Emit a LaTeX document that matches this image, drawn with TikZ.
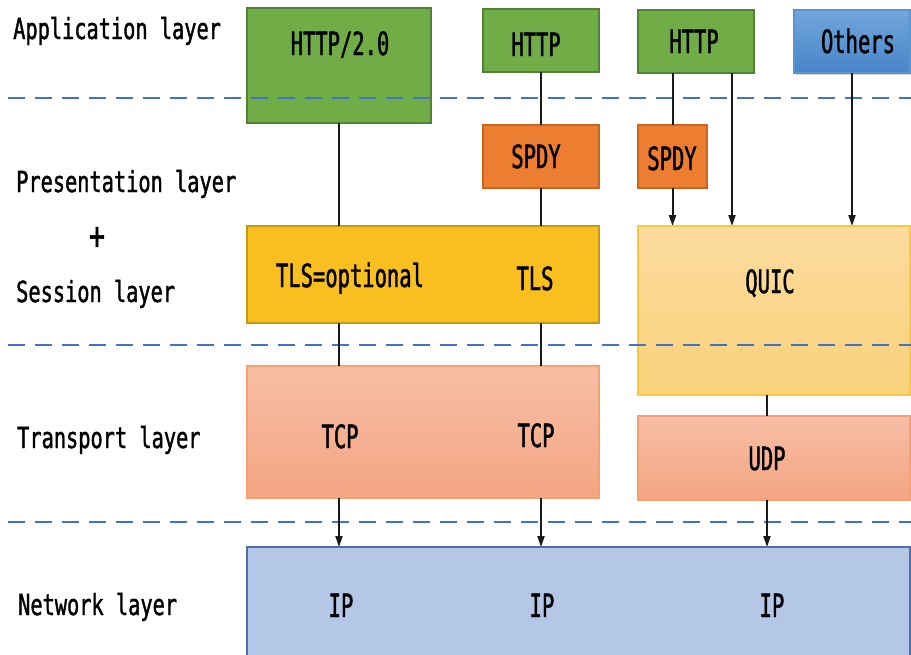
\documentclass[tikz,border=0pt]{standalone}
\usepackage{fontspec}
\setmainfont{DejaVu Sans Mono}
\newfontfamily\lfont{DejaVu Sans Mono}[FakeStretch=0.70, FakeBold=1.3]
\newfontfamily\bfont{DejaVu Sans Mono}[FakeStretch=0.64, FakeBold=1.3]
\usetikzlibrary{arrows.meta,shadows}
\definecolor{grn}{HTML}{70AD47}
\definecolor{grnb}{HTML}{548235}
\definecolor{org}{HTML}{ED7D31}
\definecolor{orgb}{HTML}{C8651F}
\definecolor{gold}{HTML}{F8BF1E}
\definecolor{goldb}{HTML}{C49A10}
\definecolor{qtop}{HTML}{FCDB9E}
\definecolor{qbot}{HTML}{F9D27B}
\definecolor{qbor}{HTML}{FBC640}
\definecolor{ttop}{HTML}{F7BEA6}
\definecolor{tbot}{HTML}{F4A582}
\definecolor{tbor}{HTML}{F4A070}
\definecolor{otop}{HTML}{72A7DC}
\definecolor{obot}{HTML}{4784C8}
\definecolor{obor}{HTML}{5B95D0}
\definecolor{ipf}{HTML}{B4C7E7}
\definecolor{ipb}{HTML}{4F6FA8}
\definecolor{sepblue}{HTML}{4472C4}
\tikzset{
  box/.style={inner sep=0pt, outer sep=0pt, anchor=north west, line width=1.2pt},
  lbl/.style={font=\bfont\fontsize{32}{34}\selectfont, anchor=base, inner sep=0pt},
  layer/.style={font=\lfont\fontsize{29}{31}\selectfont, anchor=base west, inner sep=0pt},
  conn/.style={line width=2pt, draw=black!90},
  arr/.style={conn, -{Triangle[length=11pt,width=7pt]}},
  sepline/.style={draw=sepblue, line width=2.5pt, dash pattern=on 17pt off 10pt}
}
\begin{document}
\begin{tikzpicture}[x=1pt,y=-1pt]
\useasboundingbox (0,0) rectangle (911,654);
% boxes
\node[box, fill=grn, draw=grnb, minimum width=184pt, minimum height=115pt] (h20) at (247,8) {};
\node[box, fill=grn, draw=grnb, minimum width=116pt, minimum height=63pt] (h2) at (483,9) {};
\node[box, fill=grn, draw=grnb, minimum width=116pt, minimum height=63pt] (h3) at (638,10) {};
\node[box, top color=otop, bottom color=obot, draw=obor, minimum width=116pt, minimum height=63pt,
      drop shadow={shadow xshift=2pt, shadow yshift=-2pt, opacity=0.35}] (oth) at (794,10) {};
\node[box, fill=org, draw=orgb, minimum width=116pt, minimum height=63pt] (sp1) at (483,125) {};
\node[box, fill=org, draw=orgb, minimum width=69pt, minimum height=63pt] (sp2) at (638,125) {};
\node[box, fill=gold, draw=goldb, minimum width=352pt, minimum height=97pt] (tls) at (247,226) {};
\node[box, top color=qtop, bottom color=qbot, draw=qbor, minimum width=272pt, minimum height=169pt] (quic) at (638,226) {};
\node[box, top color=ttop, bottom color=tbot, draw=tbor, minimum width=352pt, minimum height=132pt] (tcp) at (247,366) {};
\node[box, top color=ttop, bottom color=tbot, draw=tbor, minimum width=272pt, minimum height=84pt] (udp) at (638,416) {};
\node[box, fill=ipf, draw=ipb, minimum width=663pt, minimum height=120pt] (ip) at (247,547) {};
% separators
\coordinate (s1a) at (8,98);  \coordinate (s1b) at (911,98);
\coordinate (s2a) at (8,345); \coordinate (s2b) at (911,345);
\coordinate (s3a) at (8,522); \coordinate (s3b) at (911,522);
\draw[sepline] (s1a) -- (s1b);
\draw[sepline] (s2a) -- (s2b);
\draw[sepline] (s3a) -- (s3b);
% connectors
\draw[conn] (h20.south) -- (h20.south |- tls.north);
\draw[conn] (tls.south -| h20.south) -- (tcp.north -| h20.south);
\draw[arr] (tcp.south -| h20.south) -- (ip.north -| h20.south);
\draw[conn] (h2.south) -- (sp1.north);
\draw[conn] (sp1.south) -- (sp1.south |- tls.north);
\draw[conn] (tls.south -| sp1.south) -- (tcp.north -| sp1.south);
\draw[arr] (tcp.south -| sp1.south) -- (ip.north -| sp1.south);
\draw[conn] (sp2.north |- h3.south) -- (sp2.north);
\draw[arr] (sp2.south) -- (sp2.south |- quic.north);
\coordinate (h3r) at ([xshift=36pt]h3.south);
\draw[arr] (h3r) -- (h3r |- quic.north);
\draw[arr] (oth.south) -- (oth.south |- quic.north);
\coordinate (qs) at ([xshift=-7pt]quic.south);
\draw[conn] (qs) -- (qs |- udp.north);
\draw[arr] (qs |- udp.south) -- (qs |- ip.north);
% layer labels
\node[layer] (la) at (13,39) {Application layer};
\node[layer] (lp) at (16,192) {Presentation layer};
\node[layer, anchor=center, font=\lfont\fontsize{38}{40}\selectfont] (lplus) at (97,238) {+};
\node[layer] (ls) at (16,302) {Session layer};
\node[layer] (lt) at (17,448) {Transport layer};
\node[layer] (ln) at (18,615) {Network layer};
% box labels
\node[lbl] (t1) at (340,55) {HTTP/2.0};
\node[lbl] (t2) at (536,56) {HTTP};
\node[lbl] (t3) at (694,53) {HTTP};
\node[lbl] (t4) at (858,53) {Others};
\node[lbl] (t5) at (536,168) {SPDY};
\node[lbl] (t6) at (672,170) {SPDY};
\node[lbl] (t7) at (350,287) {TLS=optional};
\node[lbl] (t8) at (535,290) {TLS};
\node[lbl] (t9) at (770,293) {QUIC};
\node[lbl] (t10) at (340,448) {TCP};
\node[lbl] (t11) at (536,447) {TCP};
\node[lbl] (t12) at (767,470) {UDP};
\node[lbl] (t13) at (341,617) {IP};
\node[lbl] (t14) at (542,617) {IP};
\node[lbl] (t15) at (772,617) {IP};
\end{tikzpicture}
\end{document}
